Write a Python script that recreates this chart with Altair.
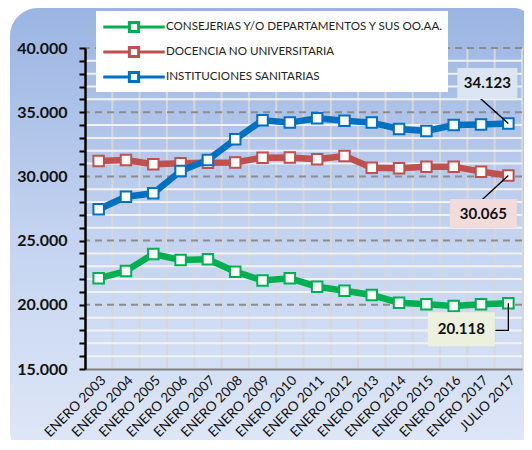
import altair as alt
import pandas as pd

categories = ["ENERO 2003", "ENERO 2004", "ENERO 2005", "ENERO 2006", "ENERO 2007",
              "ENERO 2008", "ENERO 2009", "ENERO 2010", "ENERO 2011", "ENERO 2012",
              "ENERO 2013", "ENERO 2014", "ENERO 2015", "ENERO 2016", "ENERO 2017",
              "JULIO 2017"]
series_names = ["CONSEJERIAS Y/O DEPARTAMENTOS Y SUS OO.AA.",
                "DOCENCIA NO UNIVERSITARIA",
                "INSTITUCIONES SANITARIAS"]
consejerias = [22060, 22630, 23960, 23490, 23540, 22580, 21900, 22060,
               21410, 21100, 20760, 20160, 20040, 19910, 20040, 20118]
docencia = [31200, 31280, 30940, 31020, 31070, 31090, 31460, 31480,
            31330, 31590, 30680, 30630, 30760, 30760, 30370, 30065]
instituciones = [27440, 28420, 28680, 30420, 31280, 32890, 34370, 34190,
                 34520, 34340, 34190, 33690, 33540, 34000, 34050, 34123]
series_colors = ["#00B050", "#C0504D", "#0070C0"]
y_ticks = list(range(15000, 40001, 1000))

rows = []
for name, vals in zip(series_names, [consejerias, docencia, instituciones]):
    for c, v in zip(categories, vals):
        rows.append({"serie": name, "cat": c, "value": v})
df = pd.DataFrame(rows)

last = df[df["cat"] == categories[-1]].copy()
last["label"] = last["value"].map(lambda v: f"{v:,}".replace(",", "."))

grid_df = pd.DataFrame({"v": y_ticks})
grid_df["major"] = grid_df["v"] % 5000 == 0
cat_df = pd.DataFrame({"cat": categories})

W, H = 437, 321
FONT = "Lato"

xscale = alt.Scale(domain=categories, paddingInner=0, paddingOuter=0)
yscale = alt.Scale(domain=[15000, 40000], nice=False, zero=False)
xaxis = alt.Axis(labelAngle=-45, labelFont=FONT, labelFontSize=13.5, labelColor="#111111",
                 labelPadding=4, ticks=False, grid=False, domainColor="#808080",
                 domainWidth=2, title=None, zindex=1, labelOverlap=False)
yaxis = alt.Axis(values=y_ticks, grid=False, domainColor="#000000", domainWidth=2.5,
                 tickColor="#000000", tickWidth=2, tickSize=6, labelFont=FONT,
                 labelFontSize=16, labelFontWeight="bold", labelColor="#111111",
                 labelPadding=12, title=None, zindex=1,
                 labelExpr="datum.value % 5000 === 0 ? replace(format(datum.value, ','), ',', '.') : ''")


def X(field="cat", **kw):
    return alt.X(f"{field}:N", scale=xscale, axis=xaxis, sort=categories, title=None, **kw)


def Y(field="value"):
    return alt.Y(f"{field}:Q", scale=yscale, axis=yaxis, title=None)


color = alt.Color("serie:N", scale=alt.Scale(domain=series_names, range=series_colors),
                  legend=alt.Legend(title=None, orient="none", legendX=11, legendY=-37))

bg = alt.Chart(pd.DataFrame({"a": [0]})).mark_rect(
    fill=alt.LinearGradient(gradient="linear", x1=0, x2=0, y1=0, y2=1,
                            stops=[alt.GradientStop(color="#9bb4e2", offset=0),
                                   alt.GradientStop(color="#c3d3f0", offset=0.5),
                                   alt.GradientStop(color="#e0e8f7", offset=1)]),
    cornerRadiusTopLeft=28, cornerRadiusBottomLeft=28, cornerRadiusTopRight=18,
).encode(x=alt.value(-75), x2=alt.value(W + 10), y=alt.value(-40), y2=alt.value(H + 90))

vgrid = alt.Chart(cat_df).mark_rule(color="#d6d6d6", strokeWidth=2).encode(
    x=X(bandPosition=0))
vgrid_end = alt.Chart(cat_df).transform_filter(
    alt.datum.cat == categories[-1]).mark_rule(color="#d6d6d6", strokeWidth=2).encode(
    x=X(bandPosition=1))
hgrid = alt.Chart(grid_df).transform_filter("!datum.major").mark_rule(
    color="#f2f2f2", strokeWidth=2).encode(y=Y("v"))
hgrid_major = alt.Chart(grid_df).transform_filter(
    "datum.major && datum.v > 15000").mark_rule(
    color="#8c8c8c", strokeWidth=2, strokeDash=[7, 5]).encode(y=Y("v"))

lines = alt.Chart(df).mark_line(strokeWidth=6.5).encode(
    x=X(), y=Y(), color=color, order=alt.Order("serie:N"))
points = alt.Chart(df).mark_point(shape="square", size=110, filled=True, fill="white",
                                  strokeWidth=2, opacity=1).encode(
    x=X(), y=Y(), stroke=alt.Stroke("serie:N", scale=alt.Scale(domain=series_names,
                                                                range=series_colors),
                                    legend=None))


def value_label(serie, box_fill, bx, by, bw, bh, leader):
    base = alt.Chart(last).transform_filter(alt.datum.serie == serie).encode(x=X(), y=Y())
    lead = base.mark_point(shape=leader, size=4, filled=False, stroke="#000000",
                           strokeWidth=1.3, opacity=1)
    box = base.mark_point(
        shape=f"M{-bw/2},{-bh/2}H{bw/2}V{bh/2}H{-bw/2}Z", size=4, filled=True,
        fill=box_fill, opacity=1, strokeWidth=0, xOffset=bx, yOffset=by)
    txt = base.mark_text(font=FONT, fontSize=15, fontWeight="bold", color="#111111",
                         dx=bx, dy=by).encode(text="label:N")
    return [lead, box, txt]


labels = (value_label(series_names[2], "#dce6f2", -21, -40, 60, 31, "M0,0L-29,-26")
          + value_label(series_names[1], "#f2dcdb", -25, 38, 67, 29, "M0,0L-26,24")
          + value_label(series_names[0], "#ebf1de", -47, 26, 67, 34, "M0,0V27H-13"))

chart = alt.layer(bg, vgrid, vgrid_end, hgrid, hgrid_major, lines, points, *labels).properties(
    width=W, height=H,
    autosize=alt.AutoSizeParams(type="none"),
    padding={"left": 77, "top": 40, "right": 2, "bottom": 71},
    background="white",
).configure_view(stroke=None).configure_legend(
    fillColor="white", padding=4, rowPadding=2, symbolType=
    "M-3,0L-0.45,0M0.45,0L3,0M-0.45,-0.45L0.45,-0.45L0.45,0.45L-0.45,0.45Z",
    symbolSize=420, symbolFillColor="white", symbolStrokeWidth=3, symbolOffset=22,
    labelOffset=20, labelFont=FONT, labelFontSize=11.6, labelColor="#222222",
    labelLimit=400,
)

chart.save("out.html", embed_options={"renderer": "svg", "actions": False})
